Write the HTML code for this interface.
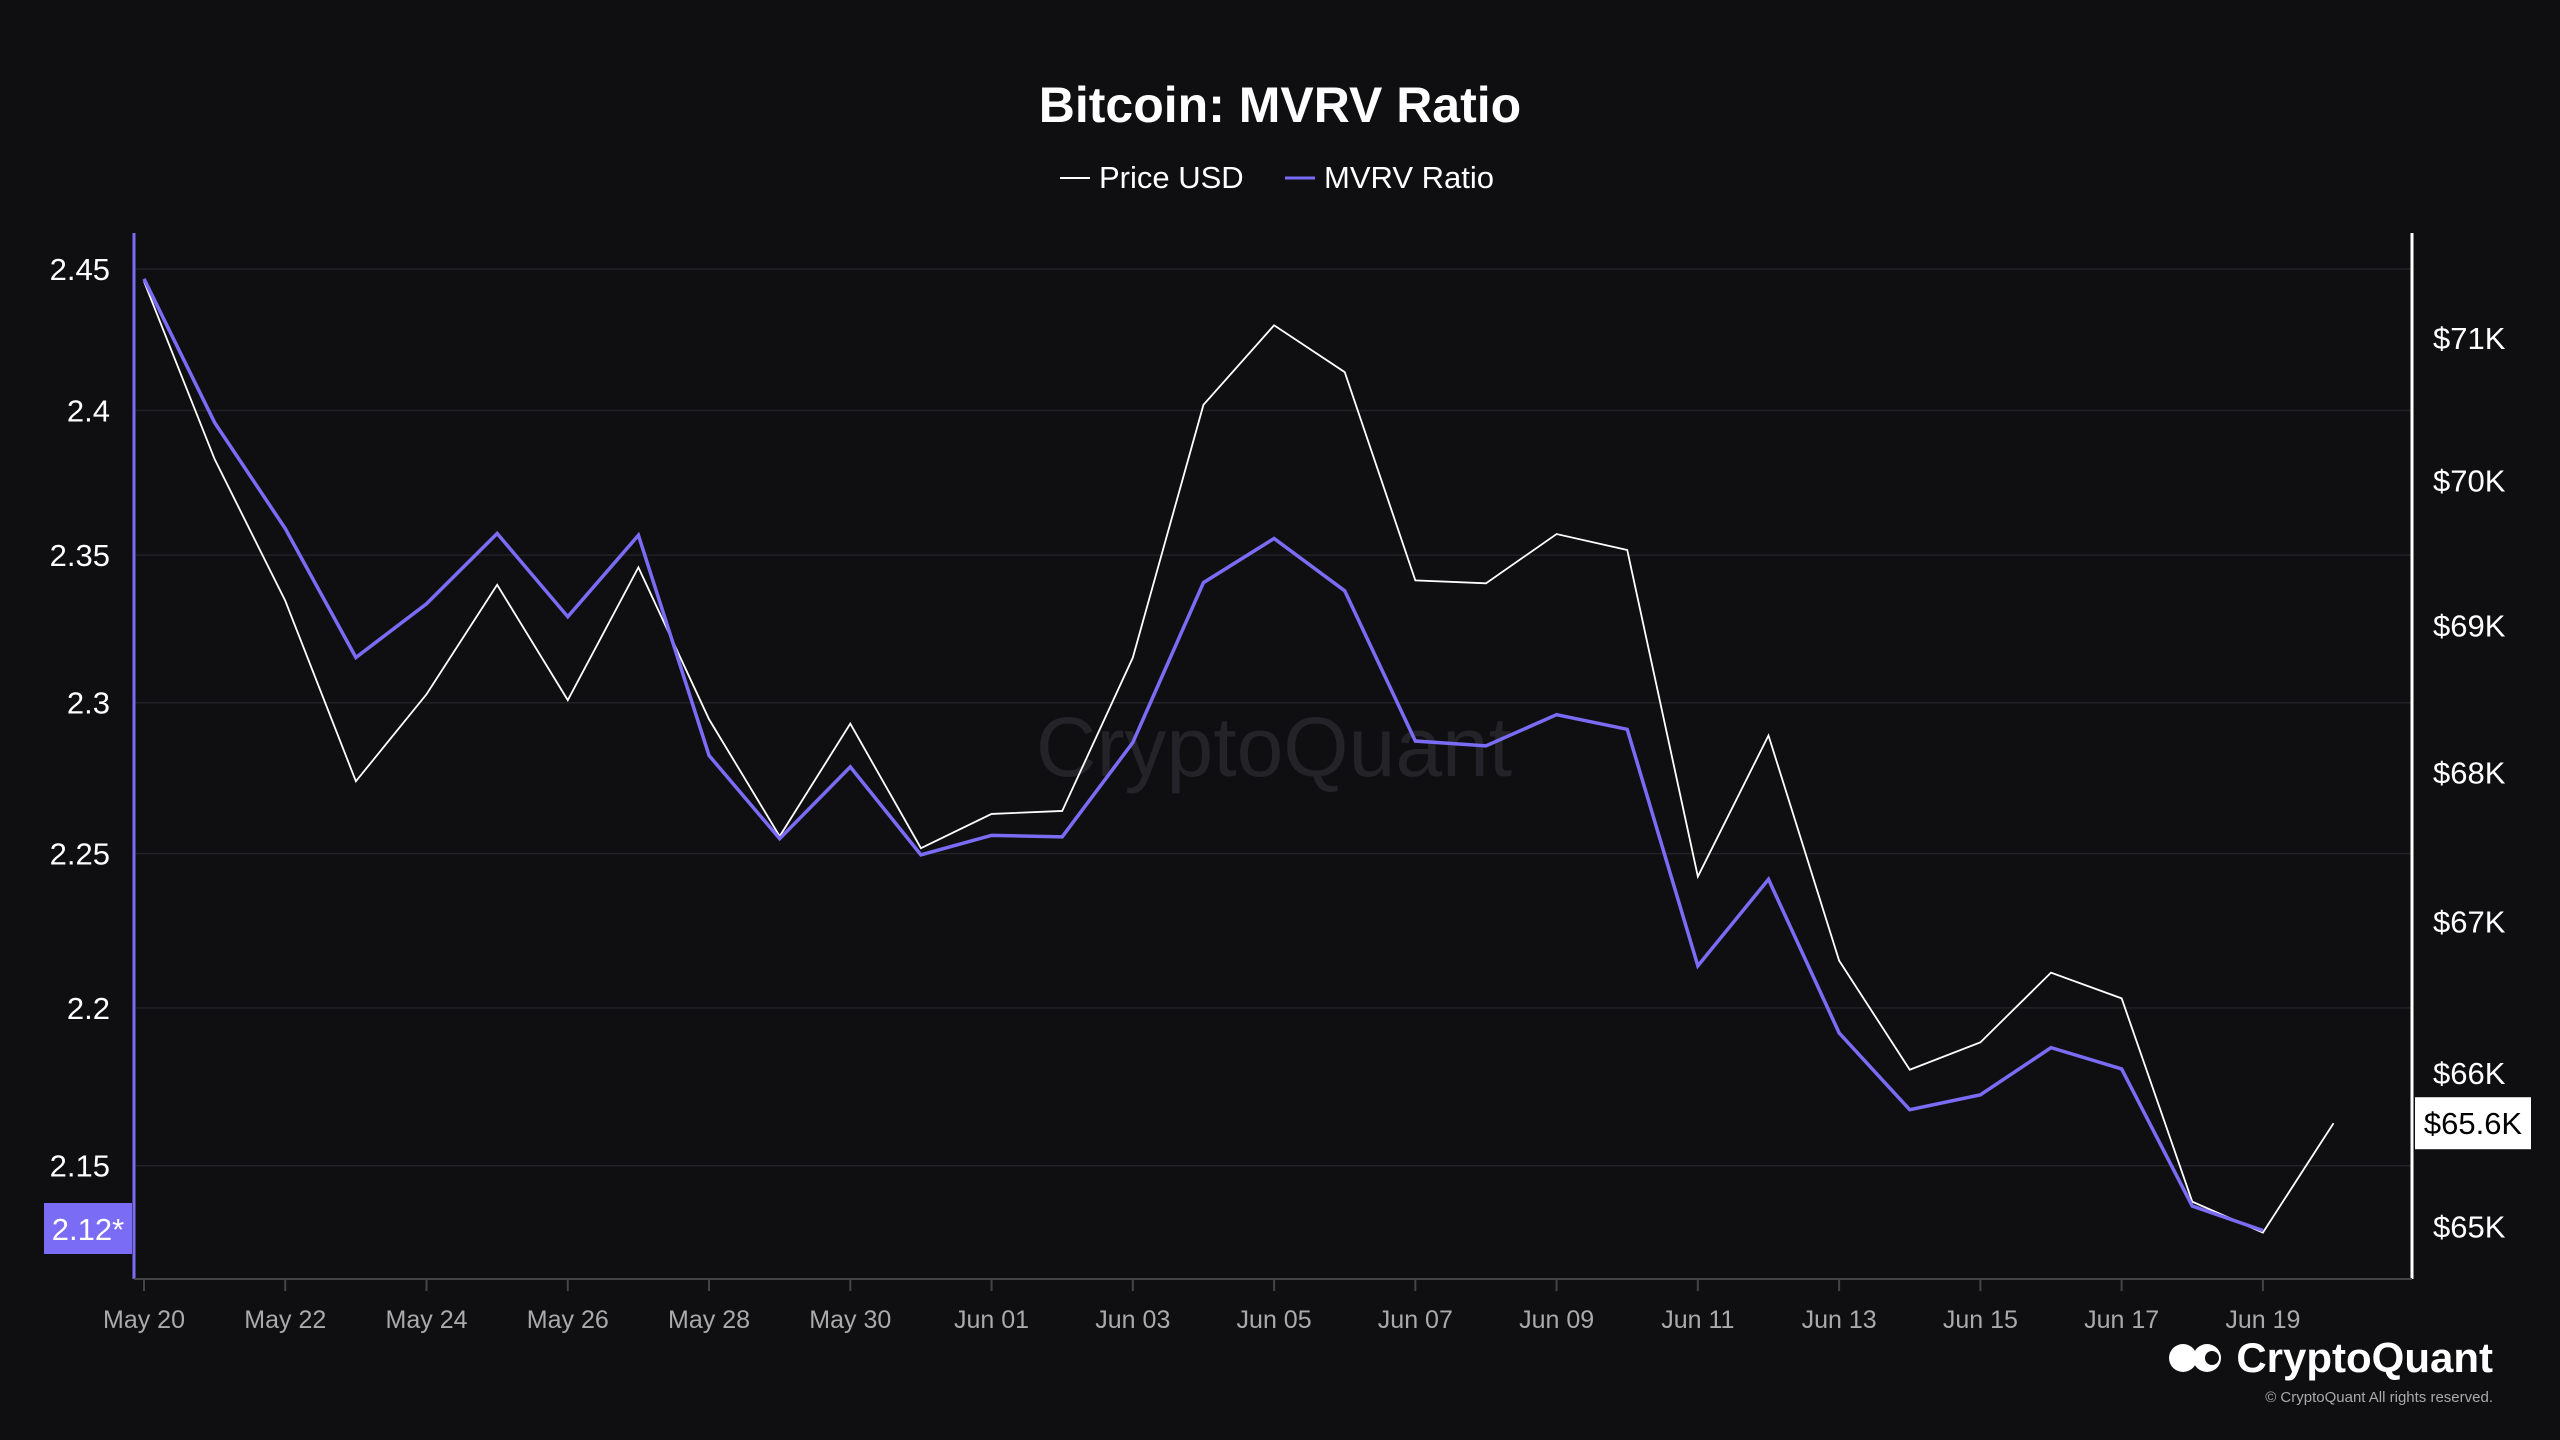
<!DOCTYPE html>
<html><head><meta charset="utf-8">
<style>
html,body{margin:0;padding:0;background:#0f0f12;}
svg{display:block;font-family:"Liberation Sans",Arial,sans-serif;}
</style></head>
<body>
<svg id="chart" width="2560" height="1440" viewBox="0 0 2560 1440">
<rect width="2560" height="1440" fill="#0f0f12"/>
<text x="1280" y="122" text-anchor="middle" font-size="50" font-weight="bold" fill="#fff">Bitcoin: MVRV Ratio</text>
<g>
<g><line x1="1060" y1="178" x2="1090" y2="178" stroke="#fff" stroke-width="2"/><text x="1099" y="188" font-size="31" fill="#fff">Price USD</text></g>
<g><line x1="1285" y1="178" x2="1315" y2="178" stroke="#7b6cf6" stroke-width="3"/><text x="1324" y="188" font-size="31" fill="#fff">MVRV Ratio</text></g>
</g>
<text x="1274" y="776" text-anchor="middle" font-size="84" fill="#232328">CryptoQuant</text>
<g id="grid"></g><g id="axes"></g><g id="series"></g>
<g>
<circle cx="2183" cy="1358" r="14" fill="#fff"/><circle cx="2207" cy="1358" r="14" fill="#fff"/><circle cx="2212" cy="1358" r="7" fill="#0f0f12"/>
<text x="2493" y="1372" text-anchor="end" font-size="42" font-weight="bold" fill="#fff">CryptoQuant</text>
<text x="2493" y="1402" text-anchor="end" font-size="15" fill="#aaa">© CryptoQuant All rights reserved.</text>
</g>
</svg>
<script>
const dates=["May 20","May 21","May 22","May 23","May 24","May 25","May 26","May 27","May 28","May 29","May 30","May 31","Jun 01","Jun 02","Jun 03","Jun 04","Jun 05","Jun 06","Jun 07","Jun 08","Jun 09","Jun 10","Jun 11","Jun 12","Jun 13","Jun 14","Jun 15","Jun 16","Jun 17","Jun 18","Jun 19","Jun 20"];
const mvrv=[2.4465,2.3958,2.3591,2.3152,2.3334,2.3574,2.3290,2.3568,2.2824,2.2549,2.2786,2.2496,2.2560,2.2555,2.2867,2.3406,2.3557,2.3378,2.2872,2.2856,2.2960,2.2911,2.2135,2.2416,2.1920,2.1676,2.1723,2.1873,2.1805,2.1374,2.1298];
const price=[71.40,70.15,69.17,67.94,68.53,69.28,68.49,69.40,68.36,67.57,68.33,67.49,67.72,67.74,68.78,70.53,71.09,70.76,69.31,69.29,69.63,69.52,67.30,68.25,66.74,66.02,66.20,66.66,66.49,65.16,64.96,65.67];
const leftTicks=[2.15,2.2,2.25,2.3,2.35,2.4,2.45];
const leftTickLabels=["2.15","2.2","2.25","2.3","2.35","2.4","2.45"];
const rightTicks=[65,66,67,68,69,70,71];
const xTickIdx=[0,2,4,6,8,10,12,14,16,18,20,22,24,26,28,30];
const NS="http://www.w3.org/2000/svg";
const xS=i=>144+i*70.63;
const yL=v=>269+(Math.log(2.45)-Math.log(v))*6865;
const yR=v=>338+(Math.log(71)-Math.log(v))*10062;
function mk(tag,attrs,parent,text){const e=document.createElementNS(NS,tag);for(const k in attrs)e.setAttribute(k,attrs[k]);if(text!==undefined)e.textContent=text;parent.appendChild(e);return e;}
const grid=document.getElementById('grid'),axes=document.getElementById('axes'),ser=document.getElementById('series');
leftTicks.forEach((t,i)=>{
 const g=mk('line',{x1:134,x2:2412,y1:yL(t),y2:yL(t),stroke:'#222226','stroke-width':1.5},grid);
 
 
 const l=mk('text',{x:110,y:yL(t)+11,'text-anchor':'end','font-size':31,fill:'#fff'},axes,leftTickLabels[i]);
 
 
});
rightTicks.forEach(t=>{
 const l=mk('text',{x:2433,y:yR(t)+11,'font-size':31,fill:'#fff'},axes,'$'+t+'K');
 
 
});
let a=mk('line',{x1:134,x2:134,y1:233,y2:1279,stroke:'#7b6cf6','stroke-width':3},axes);


a=mk('line',{x1:2412,x2:2412,y1:233,y2:1279,stroke:'#fff','stroke-width':3},axes);


a=mk('line',{x1:134,x2:2412,y1:1279,y2:1279,stroke:'#444','stroke-width':2},axes);


xTickIdx.forEach(i=>{
 mk('line',{x1:xS(i),x2:xS(i),y1:1279,y2:1291,stroke:'#444','stroke-width':2},axes);
 const l=mk('text',{x:xS(i),y:1328,'text-anchor':'middle','font-size':25,fill:'#aaa'},axes,dates[i]);
 
 
});
const p=mk('polyline',{points:price.map((v,i)=>xS(i)+','+yR(v)).join(' '),fill:'none',stroke:'#fff','stroke-width':1.8},ser);


const m=mk('polyline',{points:mvrv.map((v,i)=>xS(i)+','+yL(v)).join(' '),fill:'none',stroke:'#7b6cf6','stroke-width':3.5},ser);


const bx=mk('g',{},ser);


mk('rect',{x:44,y:1203,width:88,height:51,fill:'#7b6cf6'},bx);
mk('text',{x:88,y:1240,'text-anchor':'middle','font-size':31,fill:'#fff'},bx,'2.12*');
const pl=price[price.length-1];
const bp=mk('g',{},ser);


mk('rect',{x:2415,y:yR(pl)-26,width:116,height:52,fill:'#fff'},bp);
mk('text',{x:2473,y:yR(pl)+11,'text-anchor':'middle','font-size':31,fill:'#000'},bp,'$'+(Math.floor(pl*10)/10).toFixed(1)+'K');
</script>
</body></html>
